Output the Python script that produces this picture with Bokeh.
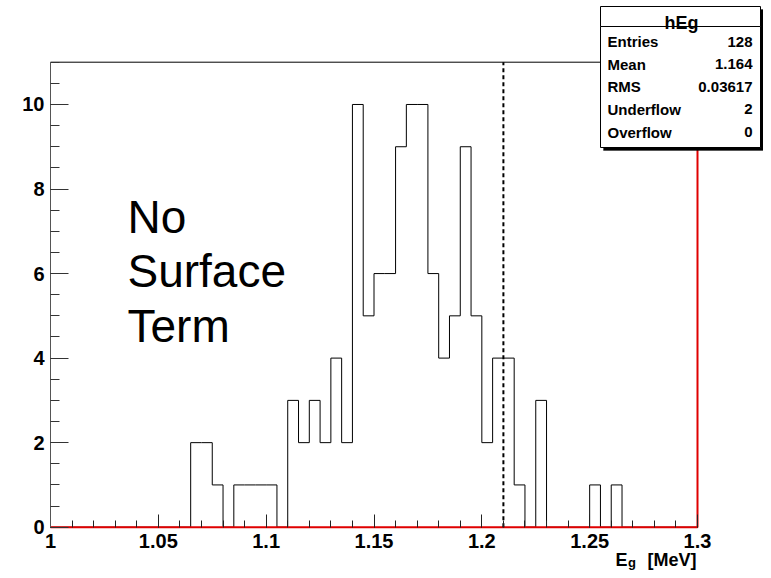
from bokeh.plotting import figure
from bokeh.models import FixedTicker, CustomJSTickFormatter, BoxAnnotation, Label
from bokeh.embed import file_html
from bokeh.resources import INLINE

# ---------------- data ----------------
bin_lo = 1.0
bin_hi = 1.3
n_bins = 60
counts = [0, 0, 0, 0, 0, 0, 0, 0, 0, 0,
          0, 0, 0, 2, 2, 1, 0, 1, 1, 1,
          1, 0, 3, 2, 3, 2, 4, 2, 10, 5,
          6, 6, 9, 10, 10, 6, 4, 5, 9, 5,
          2, 4, 4, 1, 0, 3, 0, 0, 0, 0,
          1, 0, 1, 0, 0, 0, 0, 0, 0, 0]
y_max = 11.0
cut_value = 1.21
x_ticks = [1.0, 1.05, 1.1, 1.15, 1.2, 1.25, 1.3]
y_ticks = [0, 2, 4, 6, 8, 10]
stats_title = "hEg"
stats_names = ["Entries", "Mean", "RMS", "Underflow", "Overflow"]
stats_values = ["128", "1.164", "0.03617", "2", "0"]
note_lines = ["No", "Surface", "Term"]

# ---------------- layout helpers (pixel -> data) ----------------
W, H = 763, 570
PX0, PX1, PY0, PY1 = 50.0, 697.0, 526.7, 61.7


def dx(px):
    return bin_lo + (px - PX0) / (PX1 - PX0) * (bin_hi - bin_lo)


def dy(py):
    return (PY0 - py) / (PY0 - PY1) * y_max


FONT = "Liberation Sans"

p = figure(width=W, height=H, x_range=(dx(0), dx(W)), y_range=(dy(H), dy(0)),
           output_backend="svg", toolbar_location=None,
           min_border_left=0, min_border_top=0, min_border_right=0, min_border_bottom=0)
p.background_fill_color = "white"
p.border_fill_color = "white"
p.outline_line_color = None
p.xgrid.visible = False
p.ygrid.visible = False

edges = [bin_lo + (bin_hi - bin_lo) * i / n_bins for i in range(n_bins + 1)]

# frame top line
p.line(x=[bin_lo, bin_hi], y=[y_max, y_max], line_color="black", line_width=1)

# histogram outline
p.step(x=edges, y=counts + [counts[-1]], mode="after", line_color="black", line_width=1)

# red baseline / right edge
p.line(x=[bin_lo, bin_hi, bin_hi], y=[0, 0, y_max], line_color="#e00000", line_width=2)

# dashed cut line
p.line(x=[cut_value, cut_value], y=[0, y_max], line_color="black", line_width=2, line_dash="4 3")

fmt = CustomJSTickFormatter(code="return String(Math.round(tick*1000)/1000);")

xa = p.xaxis[0]
xa.fixed_location = 0
xa.bounds = (bin_lo, bin_hi)
xa.ticker = FixedTicker(ticks=x_ticks, minor_ticks=[round(1 + 0.01 * i, 2) for i in range(31)])
xa.formatter = fmt
xa.axis_line_color = None
xa.major_tick_in = 13
xa.major_tick_out = 0
xa.minor_tick_in = 7
xa.minor_tick_out = 0
xa.major_tick_line_color = "#222222"
xa.minor_tick_line_color = "#222222"
xa.major_label_text_font = FONT
xa.major_label_text_font_style = "bold"
xa.major_label_text_font_size = "20px"
xa.major_label_text_color = "black"
xa.major_label_standoff = 7

ya = p.yaxis[0]
ya.fixed_location = bin_lo
ya.bounds = (0, y_max)
ya.ticker = FixedTicker(ticks=y_ticks, minor_ticks=[0.5 * i for i in range(23)])
ya.formatter = fmt
ya.axis_line_color = "#555555"
ya.major_tick_in = 18
ya.major_tick_out = 0
ya.minor_tick_in = 9
ya.minor_tick_out = 0
ya.major_tick_line_color = "#333333"
ya.minor_tick_line_color = "#333333"
ya.major_label_text_font = FONT
ya.major_label_text_font_style = "bold"
ya.major_label_text_font_size = "20px"
ya.major_label_text_color = "black"
ya.major_label_standoff = 6

# x-axis title E_g [MeV]
p.add_layout(Label(x=dx(615), y=dy(559), text="E", text_font=FONT, text_font_style="bold",
                   text_color="black", text_font_size="18px", text_baseline="alphabetic",
                   text_align="left"))
p.add_layout(Label(x=dx(627.5), y=dy(562), text="g", text_font=FONT, text_font_style="bold",
                   text_color="black", text_font_size="13px", text_baseline="alphabetic",
                   text_align="left"))
p.add_layout(Label(x=dx(696), y=dy(559), text="[MeV]", text_font=FONT, text_font_style="bold",
                   text_color="black", text_font_size="18px", text_baseline="alphabetic",
                   text_align="right"))

# "No Surface Term"
for txt, base in zip(note_lines, [216.7, 270.5, 325.0]):
    p.add_layout(Label(x=dx(127), y=dy(base), text=txt, text_font=FONT, text_color="black",
                       text_font_size="46px", text_baseline="alphabetic", text_align="left"))

# stats box
BL, BR, BT, BS, BB = 600, 760, 6, 26, 147
p.add_layout(BoxAnnotation(left=dx(BL + 3), right=dx(BR + 3), top=dy(BT + 3), bottom=dy(BB + 3),
                           fill_color="black", fill_alpha=1, line_color="black"))
p.add_layout(BoxAnnotation(left=dx(BL), right=dx(BR), top=dy(BT), bottom=dy(BS),
                           fill_color="white", fill_alpha=1, line_color="black", line_width=1,
                           line_alpha=1))
p.add_layout(BoxAnnotation(left=dx(BL), right=dx(BR), top=dy(BS), bottom=dy(BB),
                           fill_color="white", fill_alpha=1, line_color="black", line_width=1,
                           line_alpha=1))
p.add_layout(Label(x=dx(681), y=dy(22), text=stats_title, text_font=FONT,
                   text_color="black", text_font_style="bold", text_font_size="18px",
                   text_align="center", text_baseline="alphabetic"))
row_centers = [41, 63.5, 86, 108.5, 131.5]
for nm, vl, yc in zip(stats_names, stats_values, row_centers):
    yy = dy(yc)
    p.add_layout(Label(x=dx(607), y=yy, text=nm, text_font=FONT, text_font_size="15px",
                       text_font_style="bold", text_color="black", text_align="left",
                       text_baseline="middle"))
    p.add_layout(Label(x=dx(752), y=yy, text=vl, text_font=FONT, text_font_size="15px",
                       text_font_style="bold", text_color="black", text_align="right",
                       text_baseline="middle"))

open("out.html", "w").write(file_html(p, INLINE))
